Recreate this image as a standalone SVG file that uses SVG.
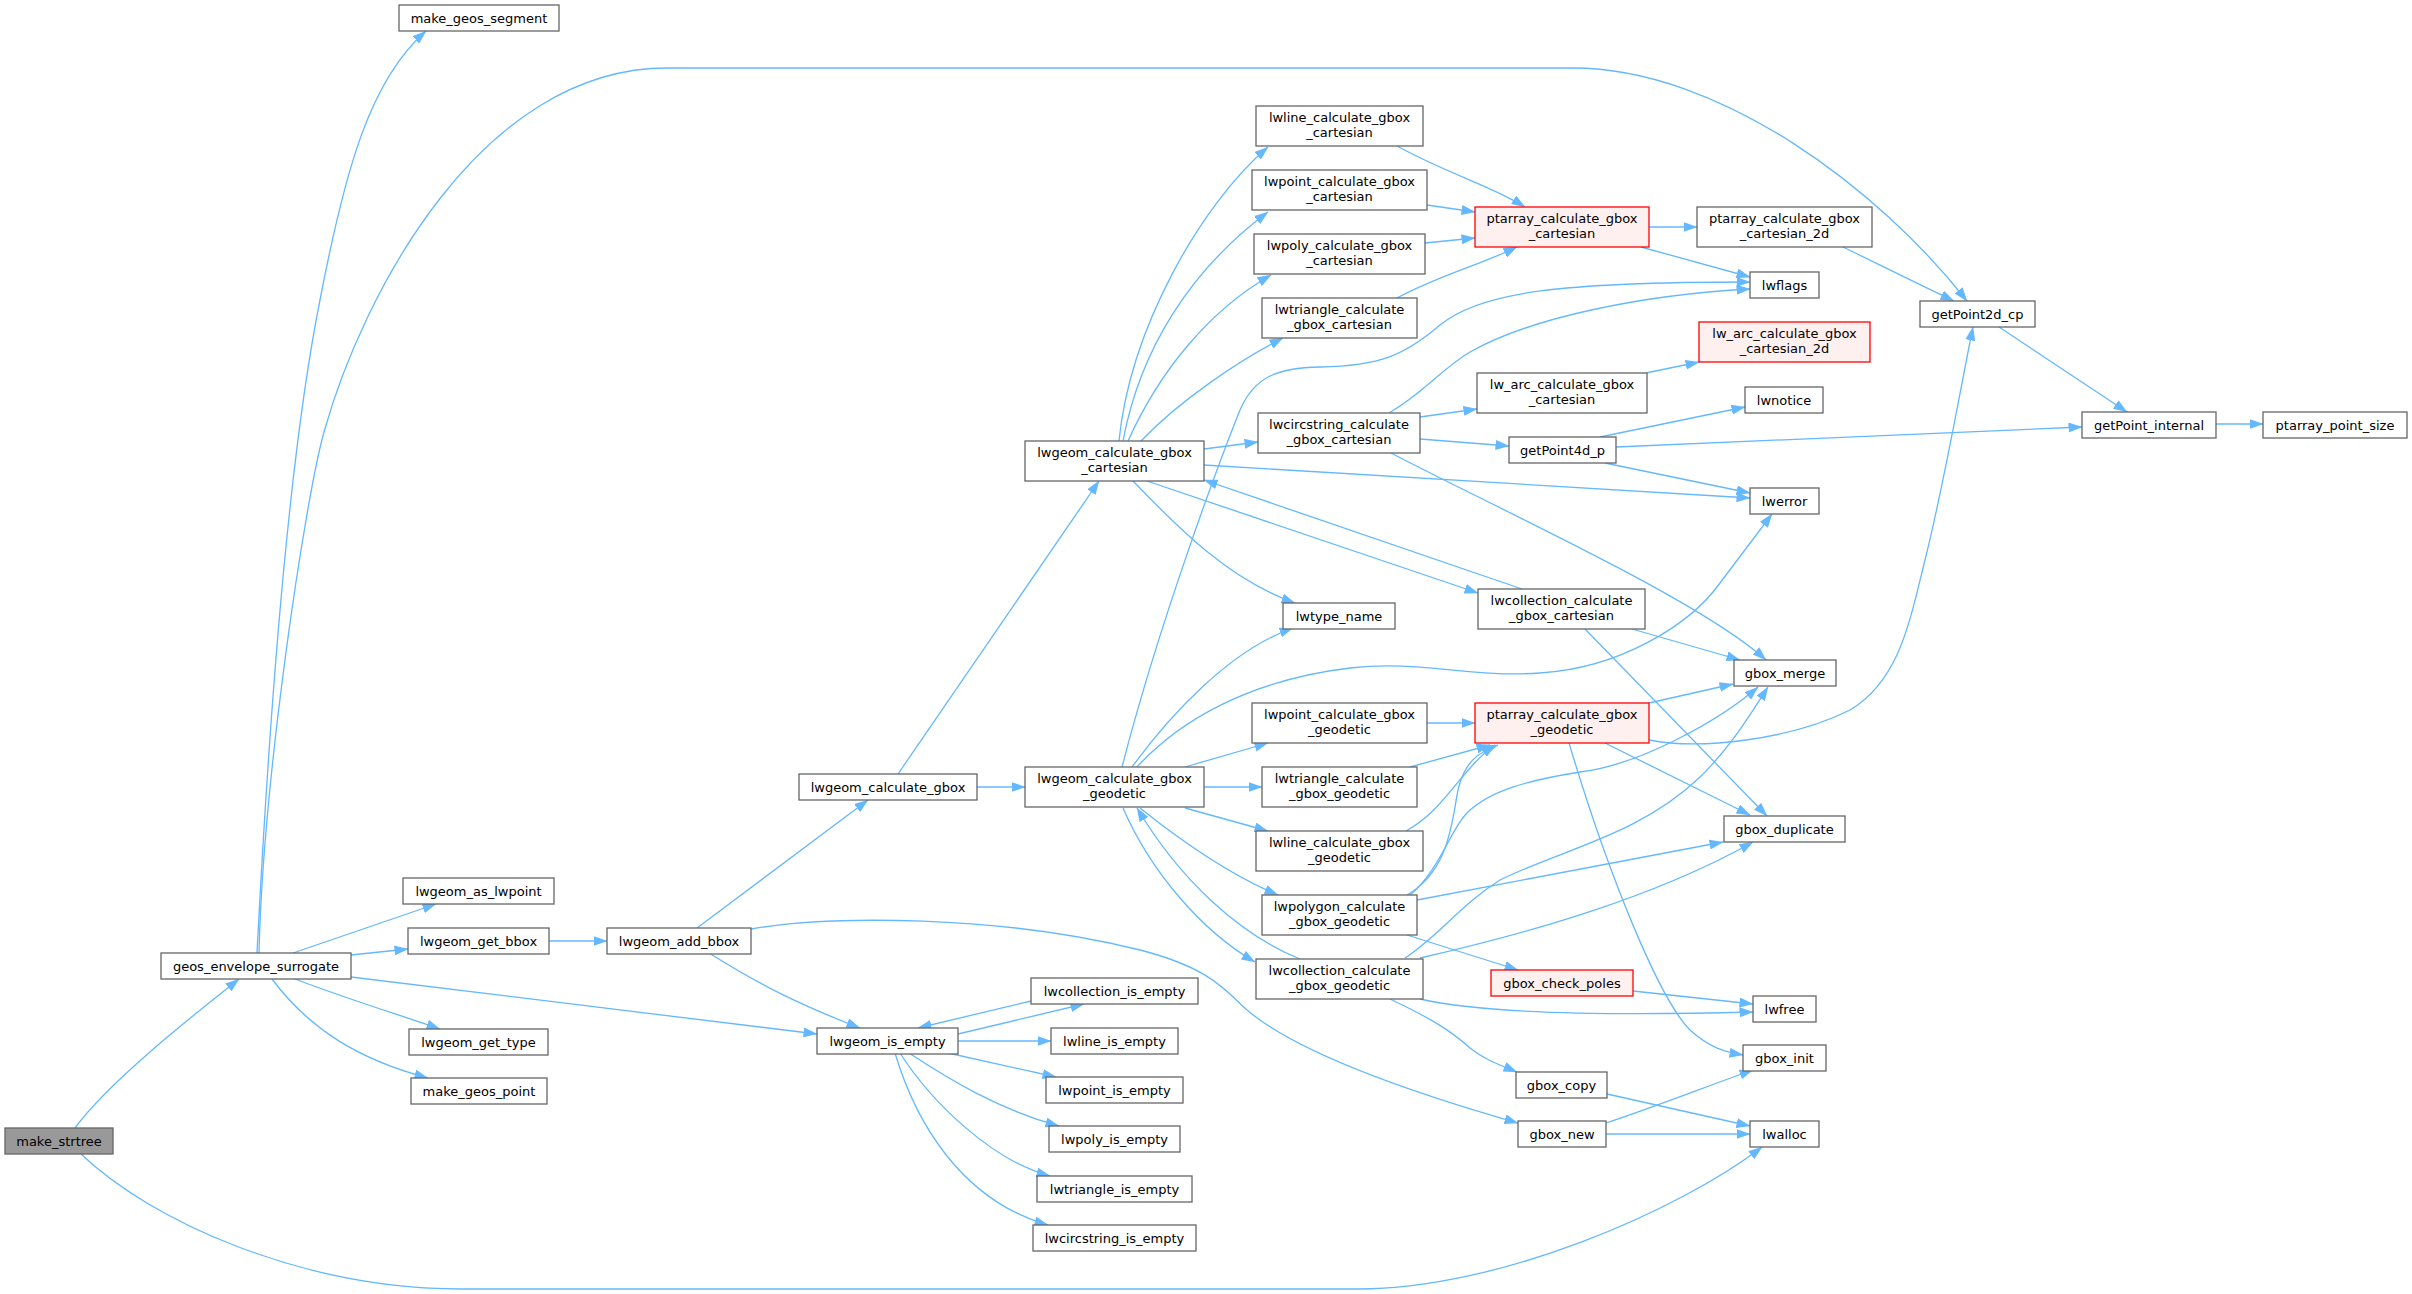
<svg xmlns="http://www.w3.org/2000/svg" width="2412" height="1294" viewBox="0 0 2412 1294">
<style>
.n rect{fill:#fff;stroke:#666;stroke-width:1.3}
.n.r rect{fill:#FFF0F0;stroke:#f00}
.n.g rect{fill:#999;stroke:#666}
text{font-family:"DejaVu Sans",sans-serif;font-size:13px;text-anchor:middle;fill:#000}
.e path{fill:none;stroke:#63B8FF;stroke-width:1.3;marker-end:url(#a)}
</style>
<defs>
<marker id="a" markerUnits="userSpaceOnUse" markerWidth="14" markerHeight="10" refX="13.5" refY="5" orient="auto"><path d="M0,0L14,5L0,10z" fill="#63B8FF"/></marker>
</defs>
<rect width="2412" height="1294" fill="#fff"/>
<g class="e" id="edges">
<path d="M75,1128 C110,1080 200,1010 239,979"/>
<path d="M81,1154 C150,1220 300,1289 462,1289 L1358,1289 C1500,1289 1680,1210 1762,1147"/>
<path d="M257,953 C270,700 290,450 320,300 C345,170 370,80 426,31"/>
<path d="M259,953 C263,780 305,500 324,432 C362,296 480,68 667,68 L1573,68 C1720,68 1880,190 1967,301"/>
<path d="M293,953 L436,904"/>
<path d="M351,955 L408,949"/>
<path d="M351,977 L817,1034"/>
<path d="M295,979 C350,1000 400,1015 440,1029"/>
<path d="M272,979 C310,1030 360,1060 428,1078"/>
<path d="M549,941 L607,941"/>
<path d="M697,928 L868,800"/>
<path d="M751,929 C830,915 1000,915 1140,950 C1210,968 1225,990 1247,1010 C1300,1055 1420,1095 1518,1123"/>
<path d="M709,953 C760,985 800,1005 860,1028"/>
<path d="M898,774 L1099,481"/>
<path d="M977,787 L1025,787"/>
<path d="M1119,441 C1130,330 1200,205 1268,147"/>
<path d="M1123,441 C1140,350 1190,270 1268,212"/>
<path d="M1128,441 C1160,370 1210,310 1271,275"/>
<path d="M1141,441 C1180,400 1240,360 1283,338"/>
<path d="M1204,449 L1258,442"/>
<path d="M1204,465 L1750,498"/>
<path d="M1133,481 C1180,530 1230,580 1295,603"/>
<path d="M1147,481 L1478,593"/>
<path d="M1522,589 L1204,480"/>
<path d="M1632,629 L1740,660"/>
<path d="M1585,629 L1767,816"/>
<path d="M1397,146 C1450,175 1490,185 1525,207"/>
<path d="M1427,205 L1475,212"/>
<path d="M1425,243 L1475,238"/>
<path d="M1397,298 C1440,275 1480,265 1517,247"/>
<path d="M1649,227 L1697,227"/>
<path d="M1641,247 L1750,277"/>
<path d="M1843,247 C1880,265 1920,285 1954,301"/>
<path d="M1999,327 L2127,412"/>
<path d="M2216,424 L2263,424"/>
<path d="M1389,413 C1425,392 1440,370 1470,352 C1530,318 1640,295 1750,289"/>
<path d="M1122,767 C1160,620 1220,460 1240,410 C1255,375 1280,368 1320,367 C1380,366 1405,355 1440,325 C1480,292 1560,282 1750,282"/>
<path d="M1420,417 L1477,409"/>
<path d="M1420,439 L1509,446"/>
<path d="M1391,453 C1500,510 1700,600 1766,660"/>
<path d="M1646,373 L1699,362"/>
<path d="M1600,437 L1745,407"/>
<path d="M1616,447 L2082,427"/>
<path d="M1605,463 L1750,493"/>
<path d="M1649,740 C1700,750 1790,740 1850,710 C1900,680 1910,620 1925,560 C1945,480 1962,380 1973,327"/>
<path d="M1132,767 C1170,715 1230,650 1293,628"/>
<path d="M1137,767 C1180,720 1250,680 1350,668 C1420,660 1470,678 1540,673 C1620,668 1690,625 1720,583 C1745,550 1760,530 1772,514"/>
<path d="M1185,767 L1268,743"/>
<path d="M1204,787 L1262,787"/>
<path d="M1185,808 L1268,831"/>
<path d="M1140,808 C1180,840 1230,875 1278,895"/>
<path d="M1123,808 C1150,870 1200,930 1255,962"/>
<path d="M1300,959 C1240,935 1180,880 1137,808"/>
<path d="M1427,723 L1475,723"/>
<path d="M1410,767 L1490,745"/>
<path d="M1406,831 C1445,810 1460,770 1495,745"/>
<path d="M1407,895 C1450,870 1452,820 1458,790 C1465,760 1480,752 1498,745"/>
<path d="M1407,935 L1518,970"/>
<path d="M1417,900 L1723,842"/>
<path d="M1410,895 C1440,870 1450,830 1467,813 C1490,790 1530,780 1580,772 C1640,765 1720,720 1758,687"/>
<path d="M1405,958 C1440,935 1460,905 1500,880 C1560,850 1640,835 1700,777 C1730,748 1750,715 1768,687"/>
<path d="M1420,958 C1520,935 1650,900 1753,842"/>
<path d="M1649,703 L1733,684"/>
<path d="M1605,743 L1750,815"/>
<path d="M1569,743 C1610,880 1660,1000 1690,1030 C1710,1048 1725,1052 1743,1055"/>
<path d="M1420,999 C1480,1013 1600,1016 1753,1012"/>
<path d="M1633,991 L1753,1004"/>
<path d="M1390,999 C1430,1018 1450,1030 1470,1048 C1485,1060 1500,1065 1517,1072"/>
<path d="M1607,1094 L1750,1126"/>
<path d="M1606,1123 C1660,1105 1710,1085 1753,1070"/>
<path d="M1606,1134 L1750,1134"/>
<path d="M958,1034 L1084,1004"/>
<path d="M1031,1001 L918,1028"/>
<path d="M958,1041 L1051,1041"/>
<path d="M948,1053 L1056,1077"/>
<path d="M909,1053 C950,1080 1000,1110 1059,1126"/>
<path d="M900,1053 C930,1100 990,1160 1050,1176"/>
<path d="M895,1053 C915,1120 960,1200 1048,1225"/>
</g>
<g id="n1" class="n g"><rect x="5" y="1128" width="108" height="26"/><text x="59" y="1145.5">make_strtree</text></g>
<g id="n2" class="n"><rect x="161" y="953" width="190" height="26"/><text x="256" y="970.5">geos_envelope_surrogate</text></g>
<g id="n3" class="n"><rect x="399" y="5" width="160" height="26"/><text x="479" y="22.5">make_geos_segment</text></g>
<g id="n4" class="n"><rect x="403" y="878" width="151" height="26"/><text x="478.5" y="895.5">lwgeom_as_lwpoint</text></g>
<g id="n5" class="n"><rect x="408" y="928" width="141" height="26"/><text x="478.5" y="945.5">lwgeom_get_bbox</text></g>
<g id="n6" class="n"><rect x="607" y="928" width="144" height="26"/><text x="679" y="945.5">lwgeom_add_bbox</text></g>
<g id="n7" class="n"><rect x="409" y="1029" width="139" height="26"/><text x="478.5" y="1046.5">lwgeom_get_type</text></g>
<g id="n8" class="n"><rect x="411" y="1078" width="136" height="26"/><text x="479" y="1095.5">make_geos_point</text></g>
<g id="n9" class="n"><rect x="799" y="774" width="178" height="26"/><text x="888" y="791.5">lwgeom_calculate_gbox</text></g>
<g id="n10" class="n"><rect x="1025" y="441" width="179" height="40"/><text x="1114.5" y="457">lwgeom_calculate_gbox</text><text x="1114.5" y="471.5">_cartesian</text></g>
<g id="n11" class="n"><rect x="1025" y="767" width="179" height="40"/><text x="1114.5" y="783">lwgeom_calculate_gbox</text><text x="1114.5" y="797.5">_geodetic</text></g>
<g id="n12" class="n"><rect x="1256" y="106" width="167" height="40"/><text x="1339.5" y="122">lwline_calculate_gbox</text><text x="1339.5" y="136.5">_cartesian</text></g>
<g id="n13" class="n"><rect x="1252" y="170" width="175" height="40"/><text x="1339.5" y="186">lwpoint_calculate_gbox</text><text x="1339.5" y="200.5">_cartesian</text></g>
<g id="n14" class="n"><rect x="1254" y="234" width="171" height="40"/><text x="1339.5" y="250">lwpoly_calculate_gbox</text><text x="1339.5" y="264.5">_cartesian</text></g>
<g id="n15" class="n"><rect x="1262" y="298" width="155" height="40"/><text x="1339.5" y="314">lwtriangle_calculate</text><text x="1339.5" y="328.5">_gbox_cartesian</text></g>
<g id="n16" class="n"><rect x="1258" y="413" width="162" height="40"/><text x="1339" y="429">lwcircstring_calculate</text><text x="1339" y="443.5">_gbox_cartesian</text></g>
<g id="n17" class="n"><rect x="1283" y="603" width="112" height="26"/><text x="1339" y="620.5">lwtype_name</text></g>
<g id="n18" class="n"><rect x="1478" y="589" width="167" height="40"/><text x="1561.5" y="605">lwcollection_calculate</text><text x="1561.5" y="619.5">_gbox_cartesian</text></g>
<g id="n19" class="n"><rect x="1252" y="703" width="175" height="40"/><text x="1339.5" y="719">lwpoint_calculate_gbox</text><text x="1339.5" y="733.5">_geodetic</text></g>
<g id="n20" class="n"><rect x="1262" y="767" width="155" height="40"/><text x="1339.5" y="783">lwtriangle_calculate</text><text x="1339.5" y="797.5">_gbox_geodetic</text></g>
<g id="n21" class="n"><rect x="1256" y="831" width="167" height="40"/><text x="1339.5" y="847">lwline_calculate_gbox</text><text x="1339.5" y="861.5">_geodetic</text></g>
<g id="n22" class="n"><rect x="1262" y="895" width="155" height="40"/><text x="1339.5" y="911">lwpolygon_calculate</text><text x="1339.5" y="925.5">_gbox_geodetic</text></g>
<g id="n23" class="n"><rect x="1256" y="959" width="167" height="40"/><text x="1339.5" y="975">lwcollection_calculate</text><text x="1339.5" y="989.5">_gbox_geodetic</text></g>
<g id="n24" class="n r"><rect x="1475" y="207" width="174" height="40"/><text x="1562" y="223">ptarray_calculate_gbox</text><text x="1562" y="237.5">_cartesian</text></g>
<g id="n25" class="n r"><rect x="1475" y="703" width="174" height="40"/><text x="1562" y="719">ptarray_calculate_gbox</text><text x="1562" y="733.5">_geodetic</text></g>
<g id="n26" class="n"><rect x="1477" y="373" width="170" height="40"/><text x="1562" y="389">lw_arc_calculate_gbox</text><text x="1562" y="403.5">_cartesian</text></g>
<g id="n27" class="n"><rect x="1509" y="437" width="107" height="26"/><text x="1562.5" y="454.5">getPoint4d_p</text></g>
<g id="n28" class="n r"><rect x="1491" y="970" width="142" height="26"/><text x="1562" y="987.5">gbox_check_poles</text></g>
<g id="n29" class="n"><rect x="1516" y="1072" width="91" height="26"/><text x="1561.5" y="1089.5">gbox_copy</text></g>
<g id="n30" class="n"><rect x="1518" y="1121" width="88" height="26"/><text x="1562" y="1138.5">gbox_new</text></g>
<g id="n31" class="n"><rect x="1697" y="207" width="175" height="40"/><text x="1784.5" y="223">ptarray_calculate_gbox</text><text x="1784.5" y="237.5">_cartesian_2d</text></g>
<g id="n32" class="n"><rect x="1750" y="272" width="69" height="26"/><text x="1784.5" y="289.5">lwflags</text></g>
<g id="n33" class="n r"><rect x="1699" y="322" width="171" height="40"/><text x="1784.5" y="338">lw_arc_calculate_gbox</text><text x="1784.5" y="352.5">_cartesian_2d</text></g>
<g id="n34" class="n"><rect x="1745" y="387" width="78" height="26"/><text x="1784" y="404.5">lwnotice</text></g>
<g id="n35" class="n"><rect x="1750" y="488" width="69" height="26"/><text x="1784.5" y="505.5">lwerror</text></g>
<g id="n36" class="n"><rect x="1734" y="660" width="102" height="26"/><text x="1785" y="677.5">gbox_merge</text></g>
<g id="n37" class="n"><rect x="1724" y="816" width="121" height="26"/><text x="1784.5" y="833.5">gbox_duplicate</text></g>
<g id="n38" class="n"><rect x="1753" y="996" width="63" height="26"/><text x="1784.5" y="1013.5">lwfree</text></g>
<g id="n39" class="n"><rect x="1743" y="1045" width="83" height="26"/><text x="1784.5" y="1062.5">gbox_init</text></g>
<g id="n40" class="n"><rect x="1750" y="1121" width="69" height="26"/><text x="1784.5" y="1138.5">lwalloc</text></g>
<g id="n41" class="n"><rect x="1920" y="301" width="115" height="26"/><text x="1977.5" y="318.5">getPoint2d_cp</text></g>
<g id="n42" class="n"><rect x="2082" y="412" width="134" height="26"/><text x="2149" y="429.5">getPoint_internal</text></g>
<g id="n43" class="n"><rect x="2263" y="412" width="144" height="26"/><text x="2335" y="429.5">ptarray_point_size</text></g>
<g id="n44" class="n"><rect x="1031" y="978" width="167" height="26"/><text x="1114.5" y="995.5">lwcollection_is_empty</text></g>
<g id="n45" class="n"><rect x="817" y="1028" width="141" height="26"/><text x="887.5" y="1045.5">lwgeom_is_empty</text></g>
<g id="n46" class="n"><rect x="1051" y="1028" width="127" height="26"/><text x="1114.5" y="1045.5">lwline_is_empty</text></g>
<g id="n47" class="n"><rect x="1046" y="1077" width="137" height="26"/><text x="1114.5" y="1094.5">lwpoint_is_empty</text></g>
<g id="n48" class="n"><rect x="1049" y="1126" width="131" height="26"/><text x="1114.5" y="1143.5">lwpoly_is_empty</text></g>
<g id="n49" class="n"><rect x="1037" y="1176" width="155" height="26"/><text x="1114.5" y="1193.5">lwtriangle_is_empty</text></g>
<g id="n50" class="n"><rect x="1033" y="1225" width="163" height="26"/><text x="1114.5" y="1242.5">lwcircstring_is_empty</text></g>
</svg>
